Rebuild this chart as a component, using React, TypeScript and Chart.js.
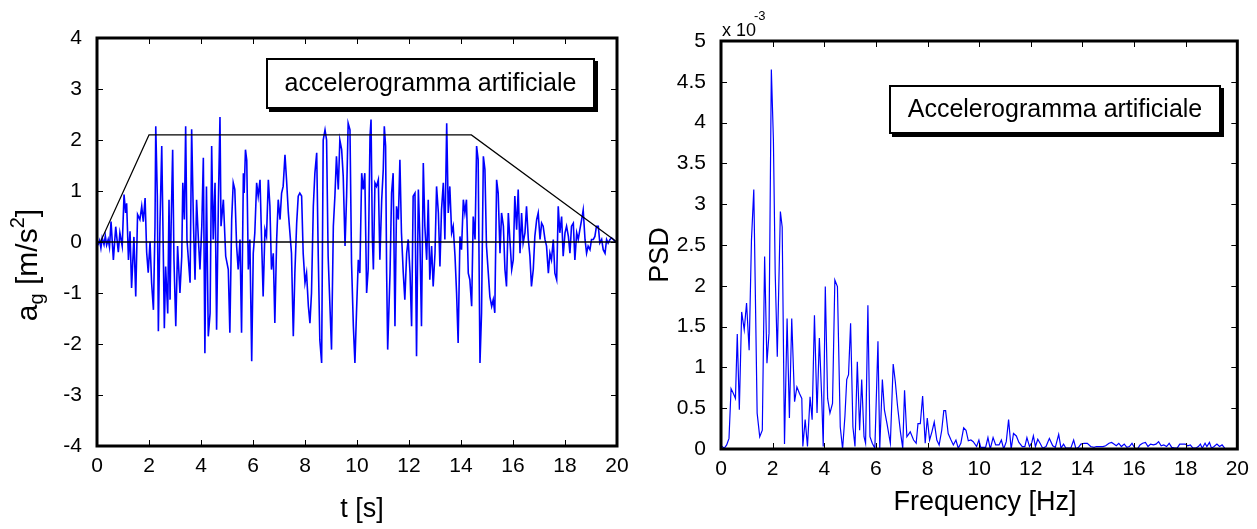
import React, { useEffect, useRef } from "react";
import { Chart, registerables } from "chart.js";

Chart.register(...registerables);

const FONT = '"Liberation Sans", Arial, Helvetica, sans-serif';

// ---------- Left chart: artificial accelerogram ----------
const accelTime = [
  0, 0.05, 0.1, 0.15, 0.2, 0.27, 0.32, 0.37, 0.43, 0.48, 0.54, 0.63, 0.72, 0.82, 0.88, 0.97, 1.04, 1.1, 1.14, 1.21,
  1.27, 1.33, 1.42, 1.49, 1.56, 1.65, 1.72, 1.78, 1.85, 1.91, 1.97, 2.04, 2.1, 2.17, 2.23, 2.26, 2.32, 2.36, 2.42, 2.49,
  2.55, 2.59, 2.64, 2.72, 2.77, 2.81, 2.85, 2.91, 2.96, 3.03, 3.1, 3.19, 3.26, 3.3, 3.36, 3.41, 3.46, 3.58, 3.64, 3.71,
  3.77, 3.83, 3.9, 3.96, 4.03, 4.09, 4.15, 4.21, 4.28, 4.35, 4.41, 4.47, 4.54, 4.6, 4.67, 4.73, 4.77, 4.86, 4.95, 5.05,
  5.11, 5.18, 5.24, 5.3, 5.37, 5.43, 5.5, 5.56, 5.63, 5.66, 5.71, 5.76, 5.82, 5.88, 5.95, 6.01, 6.07, 6.14, 6.2, 6.27,
  6.33, 6.39, 6.46, 6.52, 6.59, 6.65, 6.71, 6.78, 6.84, 6.91, 6.97, 7.04, 7.1, 7.16, 7.23, 7.29, 7.36, 7.42, 7.48, 7.55,
  7.61, 7.68, 7.74, 7.8, 7.87, 7.93, 8.0, 8.06, 8.13, 8.19, 8.25, 8.32, 8.38, 8.45, 8.51, 8.57, 8.64, 8.7, 8.77, 8.83,
  8.89, 9.02, 9.09, 9.15, 9.21, 9.28, 9.34, 9.41, 9.47, 9.54, 9.6, 9.66, 9.73, 9.79, 9.86, 9.92, 9.98, 10.05, 10.11, 10.18,
  10.24, 10.3, 10.37, 10.43, 10.5, 10.54, 10.59, 10.63, 10.69, 10.75, 10.82, 10.88, 10.95, 11.01, 11.05, 11.1, 11.14, 11.18, 11.27, 11.33,
  11.39, 11.46, 11.52, 11.59, 11.65, 11.71, 11.78, 11.84, 11.91, 11.97, 12.04, 12.1, 12.16, 12.23, 12.29, 12.36, 12.42, 12.48, 12.55, 12.61,
  12.68, 12.74, 12.8, 12.87, 12.93, 13.0, 13.06, 13.13, 13.19, 13.25, 13.32, 13.38, 13.45, 13.51, 13.57, 13.64, 13.7, 13.77, 13.83, 13.89,
  13.96, 14.02, 14.09, 14.15, 14.21, 14.28, 14.34, 14.41, 14.47, 14.54, 14.6, 14.66, 14.73, 14.79, 14.86, 14.92, 14.98, 15.05, 15.11, 15.18,
  15.24, 15.3, 15.37, 15.43, 15.5, 15.56, 15.63, 15.69, 15.75, 15.82, 15.88, 15.95, 16.01, 16.07, 16.14, 16.2, 16.27, 16.33, 16.39, 16.46,
  16.52, 16.59, 16.65, 16.71, 16.78, 16.84, 16.91, 16.97, 17.04, 17.1, 17.16, 17.23, 17.29, 17.36, 17.42, 17.48, 17.55, 17.61, 17.68, 17.74,
  17.8, 17.87, 17.93, 18.0, 18.06, 18.13, 18.19, 18.25, 18.32, 18.38, 18.45, 18.51, 18.57, 18.64, 18.7, 18.77, 18.83, 18.89, 18.96, 19.02,
  19.09, 19.15, 19.21, 19.28, 19.34, 19.41, 19.47, 19.54, 19.6, 19.66, 19.73, 19.79, 19.86, 19.92, 20,
];
const accelValue = [
  0, -0.04, 0.03, -0.12, 0.08, -0.05, 0.12, -0.06, 0.05, -0.1, 0.4, -0.35, 0.3, -0.2, 0.18, -0.08, 0.93, 0.57, 0.76, -0.35,
  0.21, -0.9, 0.1, -1.07, 0.54, 0.44, 0.7, 0.4, 0.86, -0.2, -0.6, 0.01, -0.8, -1.33, 0.3, 2.27, 0.9, -1.75, 0.3, 1.88,
  -0.2, -1.69, -0.48, -1.4, 0.83, -1.13, 0.3, 1.81, -0.35, -1.65, -0.08, -1.0, -0.28, 1.16, 0.44, 2.27, 0.05, -0.8, 2.21, 0.37,
  -0.74, 0.83, 0.05, -0.54, 0.31, 1.65, -2.18, 1.09, -1.85, -1.39, 1.88, 0.05, 1.16, -1.72, 0.83, 2.45, 0.31, 0.83, -0.28, -0.54,
  -1.78, 0.44, 1.16, 1.03, -0.08, -0.54, 0.05, -1.78, 1.35, 0.96, 1.81, 1.6, -0.54, 0.05, -2.34, -0.22, 0.18, 1.16, 0.9, 1.22,
  0.05, -1.07, 0.24, 0.11, 1.22, 0.7, -0.54, -0.22, -1.59, 0.05, 0.83, 0.44, 0.96, 1.09, 1.71, 1.22, 0.57, 0.18, -0.22, -1.85,
  -0.61, 0.37, 0.9, 0.96, 0.9, -0.22, -0.8, -0.61, -1.26, -1.59, -1.0, 0.7, 1.35, 1.75, -0.28, -1.92, -2.37, 2.0, 2.2, 2.0,
  -0.28, -2.11, 0.31, 0.9, 1.68, 1.03, 2.0, 1.81, 1.29, -0.08, 0.9, 2.33, 2.2, -0.41, -1.65, -2.37, -1.39, -0.35, -0.61, 1.35,
  1.03, 1.35, -1.0, -0.54, 2.07, 2.4, 0.11, -0.54, 1.16, 1.09, 1.22, -0.35, 0.83, 1.42, 2.27, 1.88, -0.61, -2.11, -0.61, 0.96,
  1.35, -1.65, 0.7, 0.44, 1.61, 0.18, -0.61, -1.13, -0.22, 0.05, -0.61, -1.65, 0.9, 0.96, -2.24, 1.03, 0.05, -1.65, 1.55, 0.31,
  -0.35, 0.83, -0.74, -0.08, -0.87, -0.22, 1.09, 0.57, -0.48, 0.63, 1.16, 0.05, 2.33, 0.57, 1.09, 0.18, 0.31, -0.28, -1.0, -1.98,
  0.11, -0.15, 0.83, 0.57, 0.83, -0.61, -0.74, -1.26, 0.5, 0.05, 1.88, 1.61, -2.37, -1.39, 1.68, 1.42, -0.08, -0.61, -1.07, -1.26,
  -1.13, -1.39, 1.22, 0.96, -0.22, 0.57, 0.31, -0.54, -0.87, 0.57, 0.05, -0.54, -0.35, 0.9, 0.24, 1.03, -0.22, 0.57, -0.02, 0.18,
  0.7, 0.05, -0.28, -0.87, -0.54, 0.11, 0.44, 0.57, 0.05, 0.37, 0.31, 0.05, -0.08, -0.61, -0.22, -0.35, 0.05, -0.61, -0.74, 0.7,
  0.18, 0.5, -0.28, 0.18, 0.31, 0.11, -0.22, 0.31, 0.37, -0.35, 0.18, 0.05, 0.24, 0.44, 0.63, 0.05, -0.22, -0.08, -0.15, 0.05,
  0.05, 0.11, 0.31, 0.31, -0.02, 0.05, -0.15, -0.22, 0.05, -0.02, 0.05, 0.08, 0.05, 0.01, 0,
];
const envelopeTime = [0.13, 2, 14.4, 20];
const envelopeValue = [0, 2.1, 2.1, 0];
const zeroLineTime = [0, 20];
const zeroLineValue = [0, 0];

// ---------- Right chart: PSD (values in units of 10^-3) ----------
const psdFreq = [
  0, 0.13, 0.22, 0.31, 0.39, 0.48, 0.56, 0.63, 0.71, 0.8, 0.9, 0.99, 1.09, 1.18, 1.27, 1.4, 1.5, 1.6, 1.69, 1.78,
  1.86, 1.95, 2.03, 2.1, 2.18, 2.3, 2.37, 2.46, 2.56, 2.65, 2.74, 2.85, 2.94, 3.04, 3.13, 3.17, 3.26, 3.35, 3.45, 3.53,
  3.62, 3.72, 3.81, 3.9, 3.96, 4.04, 4.13, 4.22, 4.32, 4.41, 4.51, 4.62, 4.71, 4.8, 4.87, 4.94, 5.02, 5.11, 5.19, 5.28,
  5.37, 5.45, 5.54, 5.6, 5.69, 5.77, 5.86, 5.96, 6.08, 6.15, 6.25, 6.33, 6.43, 6.56, 6.67, 6.75, 6.84, 6.95, 7.04, 7.11,
  7.2, 7.33, 7.46, 7.56, 7.63, 7.72, 7.81, 7.91, 7.99, 8.08, 8.17, 8.26, 8.36, 8.45, 8.55, 8.63, 8.7, 8.8, 8.91, 9.0,
  9.1, 9.19, 9.29, 9.4, 9.49, 9.58, 9.68, 9.77, 9.9, 9.99, 10.06, 10.15, 10.25, 10.34, 10.43, 10.54, 10.64, 10.77, 10.86, 10.95,
  11.05, 11.14, 11.24, 11.33, 11.44, 11.54, 11.67, 11.77, 11.85, 11.95, 12.04, 12.1, 12.18, 12.27, 12.36, 12.46, 12.59, 12.72, 12.85, 12.95,
  13.08, 13.17, 13.27, 13.36, 13.46, 13.55, 13.66, 13.75, 13.85, 13.94, 14.07, 14.19, 14.32, 14.45, 14.54, 14.67, 14.8, 14.9, 15.03, 15.13,
  15.22, 15.31, 15.41, 15.51, 15.62, 15.72, 15.82, 15.92, 16.03, 16.13, 16.23, 16.33, 16.44, 16.54, 16.64, 16.75, 16.85, 16.95, 17.05, 17.15,
  17.26, 17.36, 17.46, 17.57, 17.67, 17.77, 17.87, 17.98, 18.08, 18.18, 18.28, 18.39, 18.49, 18.57, 18.64, 18.75, 18.82, 18.92, 19.0, 19.1,
  19.21, 19.31, 19.41, 19.51,
];
const psdValue = [
  0.04, 0.01, 0.05, 0.13, 0.74, 0.68, 0.62, 1.41, 0.48, 1.68, 1.46, 1.79, 1.21, 2.56, 3.18, 0.44, 0.15, 0.23, 2.36, 1.05,
  1.42, 4.65, 3.79, 2.15, 1.13, 2.91, 2.72, 0.06, 1.6, 0.38, 1.6, 0.58, 0.76, 0.68, 0.62, 0.03, 0.36, 0.03, 0.64, 0.36,
  1.64, 0.44, 1.36, 0.64, 0.03, 1.99, 0.62, 0.44, 0.56, 2.07, 1.99, 0.27, 0, 0.4, 0.85, 0.91, 1.54, 0.27, 0.03, 1.07,
  0.23, 0.85, 0.15, 0.07, 1.76, 0.15, 0.07, 0.01, 1.32, 0.01, 0.85, 0.48, 0.31, 0.07, 1.04, 0.83, 0.52, 0.21, 0.01, 0.72,
  0.15, 0.21, 0.11, 0.07, 0.31, 0.31, 0.65, 0.07, 0.38, 0.11, 0.21, 0.33, 0.11, 0.05, 0.23, 0.47, 0.47, 0.19, 0.11, 0.05,
  0.11, 0.01, 0.07, 0.26, 0.23, 0.1, 0.11, 0.09, 0.03, 0.11, 0.02, 0.02, 0.02, 0.14, 0, 0.14, 0.05, 0.05, 0.11, 0,
  0.09, 0.36, 0, 0.19, 0.16, 0.08, 0.03, 0.03, 0.14, 0.03, 0.08, 0.16, 0.03, 0.12, 0.07, 0.01, 0.03, 0.13, 0.04, 0.02,
  0.18, 0.01, 0.06, 0.01, 0.01, 0.01, 0.11, 0, 0.02, 0.06, 0.07, 0.07, 0.03, 0.02, 0.03, 0.03, 0.03, 0.04, 0.07, 0.08,
  0.06, 0.04, 0.07, 0.03, 0.06, 0.02, 0.03, 0.07, 0.01, 0, 0.05, 0.07, 0.08, 0.03, 0.06, 0.05, 0.06, 0.09, 0.04, 0.05,
  0.03, 0.07, 0.02, 0.01, 0.01, 0.06, 0.06, 0.06, 0.04, 0.05, 0.01, 0.01, 0.03, 0.06, 0.01, 0.07, 0.03, 0.08, 0.01, 0.03,
  0.06, 0.03, 0.05, 0.01,
];
const psdTickLabels = ["0", "0.5", "1", "1.5", "2", "2.5", "3", "3.5", "4", "4.5", "5"];

const toXY = (xs: number[], ys: number[]) => xs.map((x, i) => ({ x, y: ys[i] }));

type Seg = { t: string; size: number; dy: number; dx?: number };

function drawRich(ctx: CanvasRenderingContext2D, segs: Seg[], x: number, y: number, rotate: boolean) {
  ctx.save();
  ctx.translate(x, y);
  if (rotate) ctx.rotate(-Math.PI / 2);
  ctx.fillStyle = "#000";
  ctx.textBaseline = "alphabetic";
  ctx.textAlign = "left";
  const widths = segs.map((s) => {
    ctx.font = `${s.size}px ${FONT}`;
    return ctx.measureText(s.t).width + (s.dx || 0);
  });
  const total = widths.reduce((a, b) => a + b, 0);
  let cx = -total / 2;
  segs.forEach((s, i) => {
    ctx.font = `${s.size}px ${FONT}`;
    ctx.fillText(s.t, cx + (s.dx || 0), s.dy);
    cx += widths[i];
  });
  ctx.restore();
}

function drawBox(ctx: CanvasRenderingContext2D, x: number, y: number, w: number, h: number, text: string, size: number) {
  ctx.save();
  ctx.fillStyle = "#000";
  ctx.fillRect(x + 3, y + 3, w, h);
  ctx.fillStyle = "#fff";
  ctx.fillRect(x, y, w, h);
  ctx.lineWidth = 2;
  ctx.strokeStyle = "#000";
  ctx.strokeRect(x + 1, y + 1, w - 2, h - 2);
  ctx.fillStyle = "#000";
  ctx.font = `${size}px ${FONT}`;
  ctx.textAlign = "center";
  ctx.textBaseline = "middle";
  ctx.fillText(text, x + w / 2, y + h / 2 + 1);
  ctx.restore();
}

function framePlugin(extra: (ctx: CanvasRenderingContext2D) => void) {
  return {
    id: "matlabFrame",
    afterDraw(chart: any) {
      const ctx: CanvasRenderingContext2D = chart.ctx;
      const a = chart.chartArea;
      const xs = chart.scales.x;
      const ys = chart.scales.y;
      ctx.save();
      ctx.strokeStyle = "#000";
      ctx.lineWidth = 1;
      ctx.beginPath();
      xs.ticks.forEach((t: any) => {
        const px = Math.round(xs.getPixelForValue(t.value)) + 0.5;
        ctx.moveTo(px, a.bottom);
        ctx.lineTo(px, a.bottom - 6);
        ctx.moveTo(px, a.top);
        ctx.lineTo(px, a.top + 6);
      });
      ys.ticks.forEach((t: any) => {
        const py = Math.round(ys.getPixelForValue(t.value)) + 0.5;
        ctx.moveTo(a.left, py);
        ctx.lineTo(a.left + 6, py);
        ctx.moveTo(a.right, py);
        ctx.lineTo(a.right - 6, py);
      });
      ctx.stroke();
      ctx.lineWidth = 3;
      ctx.strokeRect(a.left, a.top, a.right - a.left, a.bottom - a.top);
      extra(ctx);
      ctx.restore();
    },
  };
}

const tickFont = { family: FONT, size: 21 };

function axisOpts(min: number, max: number, step: number, padding: number, fit: (s: any) => void, cb?: (v: number) => string) {
  return {
    type: "linear" as const,
    min,
    max,
    grid: { display: false, drawTicks: false },
    border: { display: false },
    ticks: {
      stepSize: step,
      autoSkip: false,
      maxRotation: 0,
      padding,
      color: "#000",
      font: tickFont,
      callback: cb || ((v: any) => String(v)),
    },
    afterFit: fit,
  };
}

export default function App() {
  const leftRef = useRef<HTMLCanvasElement>(null);
  const rightRef = useRef<HTMLCanvasElement>(null);

  useEffect(() => {
    const left = new Chart(leftRef.current as HTMLCanvasElement, {
      type: "line",
      data: {
        datasets: [
          { data: toXY(zeroLineTime, zeroLineValue), borderColor: "#000", borderWidth: 1.3, pointRadius: 0, order: 0 },
          { data: toXY(envelopeTime, envelopeValue), borderColor: "#000", borderWidth: 1.2, pointRadius: 0, order: 0 },
          { data: toXY(accelTime, accelValue), borderColor: "#0000ff", borderWidth: 1.6, pointRadius: 0, order: 1 },
        ],
      } as any,
      options: {
        responsive: false,
        animation: false,
        events: [],
        layout: { padding: { left: 0, right: 23, top: 38, bottom: 0 } },
        plugins: { legend: { display: false }, tooltip: { enabled: false } },
        elements: { line: { tension: 0 } },
        scales: {
          x: axisOpts(0, 20, 2, 8, (s) => { s.height = 83; }),
          y: axisOpts(-4, 4, 1, 15, (s) => { s.width = 97; }),
        },
      } as any,
      plugins: [
        framePlugin((ctx) => {
          drawBox(ctx, 266, 58, 329, 51, "accelerogramma artificiale", 25);
          drawRich(ctx, [{ t: "t [s]", size: 27, dy: 0 }], 362, 517, false);
          drawRich(
            ctx,
            [
              { t: "a", size: 30, dy: 0 },
              { t: "g", size: 20, dy: 6 },
              { t: " [m/s", size: 30, dy: 0 },
              { t: "2", size: 20, dy: -13 },
              { t: "]", size: 30, dy: 0 },
            ],
            37,
            265,
            true
          );
        }),
      ],
    });

    const right = new Chart(rightRef.current as HTMLCanvasElement, {
      type: "line",
      data: {
        datasets: [
          { data: toXY(psdFreq, psdValue), borderColor: "#0000ff", borderWidth: 1.2, pointRadius: 0 },
        ],
      } as any,
      options: {
        responsive: false,
        animation: false,
        events: [],
        layout: { padding: { left: 0, right: 16, top: 41, bottom: 0 } },
        plugins: { legend: { display: false }, tooltip: { enabled: false } },
        elements: { line: { tension: 0 } },
        scales: {
          x: axisOpts(0, 20, 2, 8, (s) => { s.height = 80; }),
          y: axisOpts(0, 5, 0.5, 15, (s) => { s.width = 81; }, (v) => psdTickLabels[Math.round(v * 2)]),
        },
      } as any,
      plugins: [
        framePlugin((ctx) => {
          drawBox(ctx, 249, 85, 332, 49, "Accelerogramma artificiale", 25);
          drawRich(ctx, [{ t: "Frequency [Hz]", size: 27, dy: 0 }], 345, 510, false);
          drawRich(ctx, [{ t: "PSD", size: 27, dy: 0 }], 28, 255, true);
          ctx.save();
          ctx.fillStyle = "#000";
          ctx.textAlign = "left";
          ctx.textBaseline = "alphabetic";
          ctx.font = `18px ${FONT}`;
          ctx.fillText("x 10", 82, 36);
          ctx.font = `13px ${FONT}`;
          ctx.fillText("-3", 114, 20);
          ctx.restore();
        }),
      ],
    });

    return () => {
      left.destroy();
      right.destroy();
    };
  }, []);

  return (
    <div style={{ position: "absolute", left: 0, top: 0, width: 1257, height: 529, background: "#fff", overflow: "hidden" }}>
      <canvas ref={leftRef} width={640} height={529} style={{ position: "absolute", left: 0, top: 0 }} />
      <canvas ref={rightRef} width={617} height={529} style={{ position: "absolute", left: 640, top: 0 }} />
    </div>
  );
}
